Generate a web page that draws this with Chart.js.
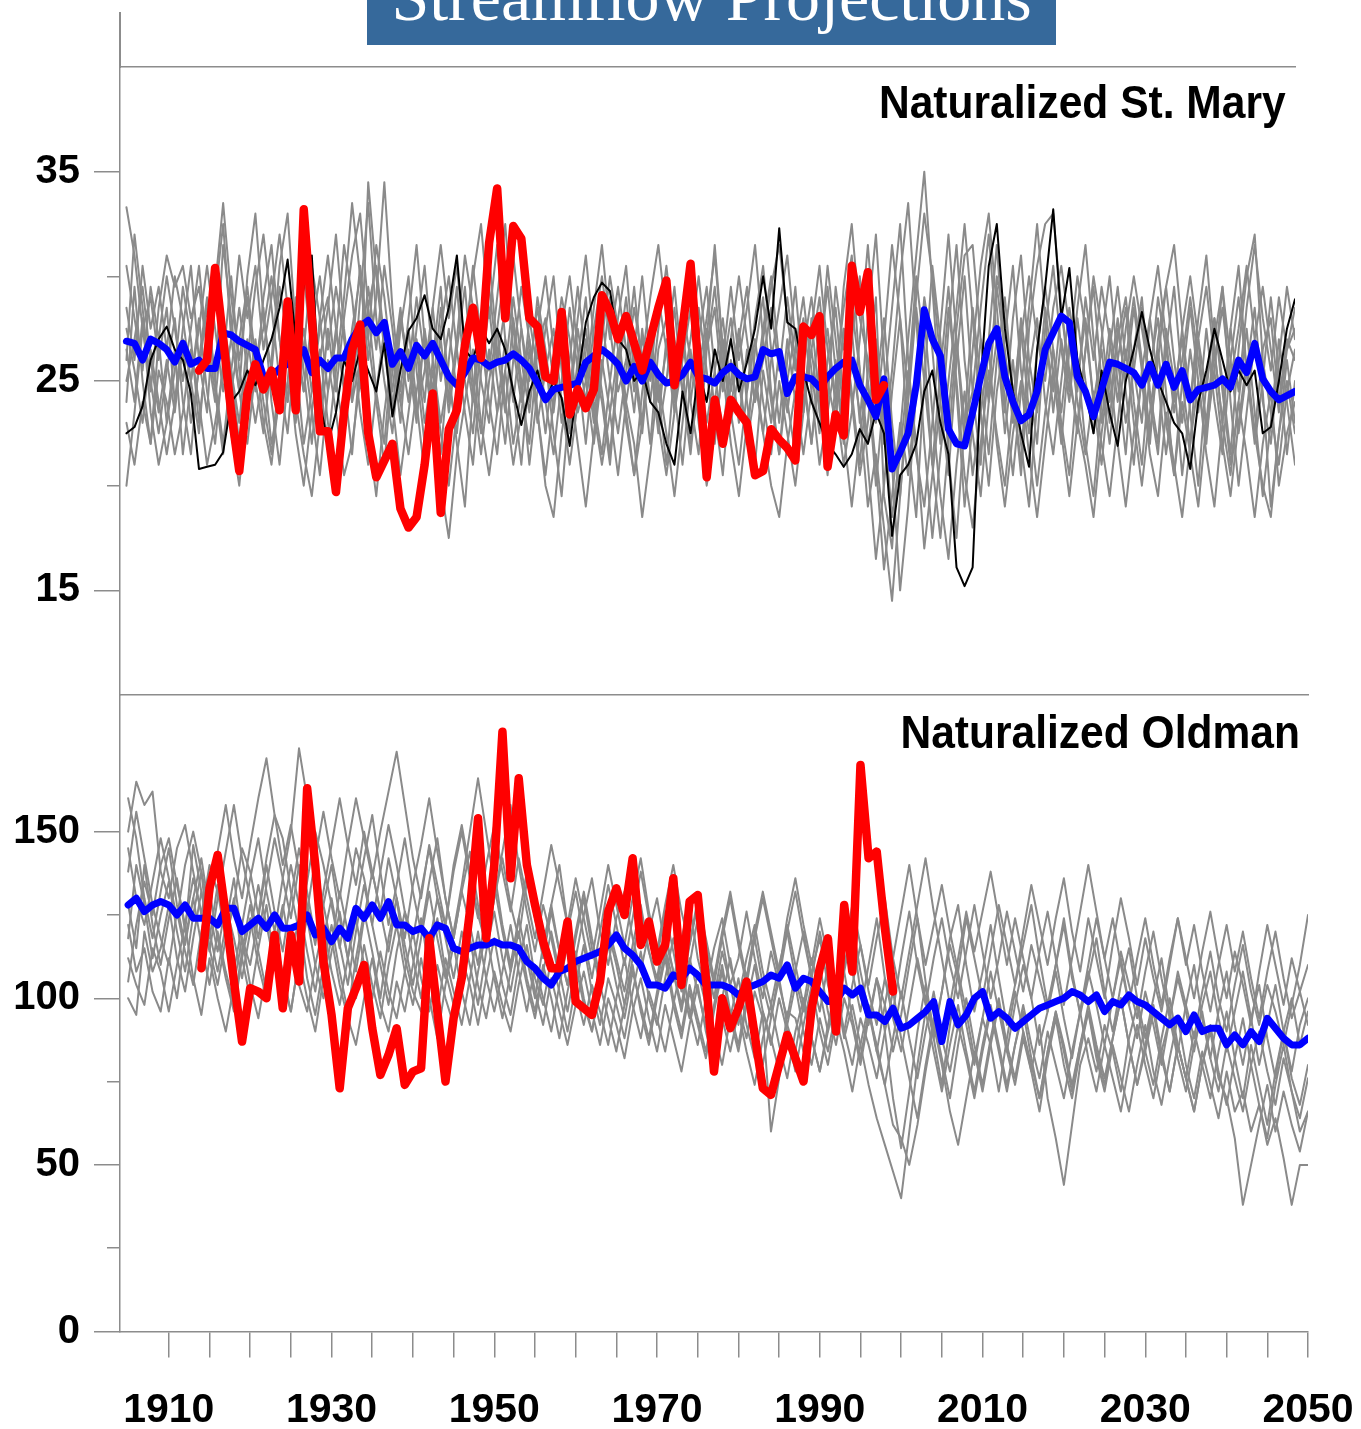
<!DOCTYPE html>
<html>
<head>
<meta charset="utf-8">
<title>Streamflow Projections</title>
<script src="https://cdn.jsdelivr.net/npm/chart.js@4.4.1/dist/chart.umd.min.js"></script>
<style>
  html, body { margin: 0; padding: 0; background: #fff; }
  body { width: 1361px; height: 1429px; position: relative; overflow: hidden; }
  #banner { position: absolute; left: 367px; top: 0; width: 689px; height: 45px; background: #36699b; overflow: hidden; }
  #banner span { position: absolute; left: 0; right: 0; top: -37px; text-align: center; color: #fff;
    font: 68px/68px "Liberation Serif", "Times New Roman", serif; white-space: nowrap; }
  .panelTitle { position: absolute; color: #000; white-space: nowrap;
    font: bold 46px/46px "Liberation Sans", Arial, sans-serif;
    transform: scaleX(0.925); transform-origin: right center; }
  #stub { position: absolute; left: 119px; top: 12px; width: 1.5px; height: 56px; background: #8c8c8c; }
  canvas { position: absolute; left: 0; }
</style>
</head>
<body>
<div id="banner"><span>Streamflow Projections</span></div>
<div id="stub"></div>
<canvas id="stMaryChart" width="1361" height="700" style="top:0"></canvas>
<canvas id="oldmanChart" width="1361" height="740" style="top:690px"></canvas>
<div class="panelTitle" style="right:75px; top:79px;">Naturalized St. Mary</div>
<div class="panelTitle" style="right:61px; top:709px;">Naturalized Oldman</div>

<script>
'use strict'

// years: model runs 1905-2050, observed record 1914-1999
const FIRST_YEAR = 1905;
const OBSERVED_FIRST_YEAR = 1914;

const stMaryTicks = [15, 25, 35];
const stMaryMinorTicks = [20, 30];
const oldmanTicks = [0, 50, 100, 150];
const oldmanMinorTicks = [25, 75, 125];
const yearLabels = [1910, 1930, 1950, 1970, 1990, 2010, 2030, 2050];
let yearTicks = [];
for (let y = 1910; y <= 2050; y += 5) {
    yearTicks.push(y);
}

// ---------------- St. Mary ----------------
let stMaryObserved = [
    25.5, 26.0, 30.4, 27.0, 23.5, 20.7,
    24.4, 25.8, 24.6, 25.5, 23.6, 28.8, 23.6, 33.2, 28.0, 22.6,
    22.6, 19.7, 23.5, 26.5, 27.7, 22.5, 20.4, 21.2, 22.0, 18.9,
    18.0, 18.5, 21.0, 24.4, 18.7, 22.7, 23.6, 26.7, 28.5, 26.1,
    31.6, 34.2, 28.0, 32.4, 31.8, 28.0, 27.6, 25.2, 25.0, 28.3,
    23.4, 24.6, 23.7, 24.6, 29.1, 28.3, 27.0, 28.1, 26.8, 25.5,
    27.0, 28.5, 29.8, 24.8, 27.5, 30.6, 25.5, 20.4, 24.1, 22.0,
    24.1, 23.5, 23.0, 20.5, 20.7, 22.7, 22.2, 21.8, 21.2, 27.6,
    27.2, 28.1, 20.9, 23.4, 22.4, 30.5, 28.3, 30.2, 24.1, 24.8
];

let stMaryMean = [
    26.9, 26.8, 26.0, 27.0, 26.8,
    26.5, 25.9, 26.8, 25.8, 26.0, 25.6, 25.6, 27.3, 27.2, 26.9,
    26.7, 26.5, 25.2, 25.2, 25.6, 25.8, 26.2, 26.5, 25.4, 26.0,
    25.6, 26.1, 26.1, 27.0, 27.6, 27.9, 27.3, 27.8, 25.8, 26.4,
    25.6, 26.7, 26.2, 26.8, 26.0, 25.2, 24.8, 25.4, 26.1, 26.0,
    25.7, 25.9, 26.0, 26.3, 26.0, 25.6, 24.9, 24.1, 24.6, 24.7,
    24.8, 24.9, 25.9, 26.2, 26.5, 26.2, 25.8, 25.0, 25.7, 25.0,
    25.9, 25.3, 24.9, 25.0, 25.3, 25.9, 25.2, 25.1, 24.9, 25.4,
    25.7, 25.3, 25.1, 25.2, 26.5, 26.3, 26.4, 24.4, 25.2, 25.2,
    25.1, 24.7, 25.2, 25.6, 25.9, 26.0, 24.8, 24.1, 23.3, 25.1,
    20.8, 21.6, 22.5, 24.8, 28.4, 27.0, 26.2, 22.7, 22.0, 21.9,
    23.5, 25.2, 26.8, 27.5, 25.2, 24.0, 23.1, 23.4, 24.5, 26.5,
    27.3, 28.1, 27.8, 25.2, 24.5, 23.3, 24.6, 25.9, 25.8, 25.6,
    25.4, 24.8, 25.8, 24.8, 25.8, 24.7, 25.5, 24.1, 24.6, 24.7,
    24.8, 25.1, 24.7, 26.0, 25.4, 26.8, 25.1, 24.5, 24.1, 24.3,
    24.5
];

let stMaryModel = [
    22.5, 22.8, 23.8, 26.0, 27.0,
    27.6, 26.5, 26.0, 24.4, 20.8, 20.9, 21.0, 21.6, 24.0, 24.5,
    25.5, 24.8, 26.0, 27.0, 28.5, 30.8, 27.0, 29.5, 31.0, 24.0,
    22.0, 23.5, 26.0, 25.0, 26.5, 25.5, 24.5, 26.8, 23.3, 25.5,
    27.4, 28.0, 29.1, 27.5, 27.0, 28.5, 31.0, 26.5, 26.0, 27.5,
    26.8, 27.5, 26.5, 24.5, 22.9, 24.5, 25.5, 24.0, 25.0, 24.2,
    21.9, 25.0, 27.8, 29.0, 29.7, 29.3, 27.0, 26.5, 25.0, 25.5,
    24.0, 23.5, 22.0, 21.0, 24.5, 22.5, 25.5, 24.0, 26.5, 25.0,
    27.0, 24.5, 25.9, 27.5, 30.0, 27.5, 32.3, 27.8, 27.5, 25.5,
    24.0, 23.0, 22.0, 21.5, 20.9, 21.5, 22.7, 22.0, 23.5, 22.5,
    17.6, 20.5, 21.0, 22.0, 24.5, 25.5, 23.0, 21.5, 16.1, 15.2,
    16.1, 25.0, 30.5, 32.5, 27.5, 24.5, 22.5, 20.9, 26.5, 29.5,
    33.2, 28.0, 30.4, 26.0, 24.5, 22.5, 25.5, 23.5, 21.9, 25.0,
    26.5, 28.3, 26.5, 25.0, 24.0, 23.0, 22.5, 20.8, 24.0, 25.5,
    27.5, 26.0, 24.5, 25.5, 24.8, 25.5, 22.5, 22.8, 25.0, 27.5,
    28.9
];

let stMaryRun1 = [
    33.3, 31.0, 27.5, 29.0, 26.0,
    28.5, 24.0, 27.5, 30.5, 26.0, 23.5, 29.0, 32.5, 27.0, 24.5,
    30.0, 33.0, 28.0, 25.5, 29.5, 27.0, 23.0, 26.5, 30.5, 28.0,
    24.5, 27.0, 31.5, 29.0, 25.0, 34.5, 30.0, 26.5, 23.5, 27.5,
    30.0, 25.5, 22.0, 26.0, 29.5, 24.0, 27.0, 31.0, 28.5, 25.0,
    23.0, 27.5, 30.5, 26.5, 24.0, 28.0, 25.5, 22.5, 26.0, 29.0,
    27.0, 23.5, 25.0, 28.5, 31.5, 27.5, 24.5, 26.0, 29.5, 25.5,
    22.0, 26.5, 28.0, 24.0, 27.5, 30.5, 26.0, 23.0, 25.5, 28.0,
    24.5, 27.0, 29.5, 25.0, 22.5, 26.0, 28.5, 31.0, 27.0, 24.0,
    26.5, 29.0, 25.0, 23.0, 27.5, 24.5, 21.0, 25.5, 29.0, 19.5,
    17.0, 22.5, 27.0, 31.0, 35.0, 29.5, 24.0, 20.5, 26.0, 30.0,
    24.5, 21.0, 27.0, 31.5, 26.0, 23.5, 28.0, 25.0, 22.0, 27.5,
    30.5, 26.5, 24.0, 28.0, 25.0, 22.5, 27.0, 30.0, 26.0, 23.0,
    25.5, 28.5, 24.0, 21.5, 26.5, 29.5, 25.0, 22.0, 27.0, 24.5,
    28.0, 25.0, 21.5, 26.5, 30.0, 32.0, 26.0, 23.5, 21.0, 24.5,
    26.5
];

let stMaryRun2 = [
    24.0, 29.5, 25.0, 22.0, 27.0,
    23.0, 26.5, 21.5, 25.0, 28.0, 24.5, 22.0, 26.0, 30.0, 25.5,
    23.5, 27.0, 24.0, 21.5, 25.5, 28.5, 26.0, 22.0, 24.5, 27.5,
    29.0, 25.0, 22.5, 26.5, 30.5, 27.0, 24.0, 21.0, 25.5, 28.0,
    26.0, 23.0, 27.5, 24.5, 21.5, 26.0, 29.5, 25.0, 22.5, 27.0,
    31.0, 26.5, 23.5, 28.0, 25.0, 21.0, 24.5, 27.5, 30.0, 25.5,
    22.5, 26.0, 29.0, 24.0, 21.5, 25.0, 28.0, 30.5, 26.0, 23.0,
    27.5, 24.5, 21.0, 25.5, 28.5, 26.0, 23.5, 27.0, 31.5, 26.5,
    23.0, 25.5, 22.0, 26.5, 29.0, 24.5, 21.5, 25.0, 27.5, 23.5,
    28.0, 24.0, 20.5, 25.0, 28.5, 31.0, 25.5, 21.0, 16.5, 20.0,
    24.5, 28.0, 22.0, 18.5, 25.0, 30.5, 27.0, 21.5, 17.5, 23.0,
    28.5, 25.0, 21.5, 26.0, 29.0, 24.5, 20.5, 25.5, 28.0, 24.0,
    21.5, 25.0, 28.5, 26.0, 22.0, 19.5, 24.0, 27.5, 25.0, 21.5,
    26.5, 29.0, 24.5, 22.0, 27.5, 25.0, 20.5, 24.0, 27.0, 22.5,
    25.5, 29.5, 24.0, 20.0, 23.5, 27.0, 24.5, 19.0, 22.5, 26.0,
    23.0
];

let stMaryRun3 = [
    28.5, 26.0, 30.5, 27.5, 29.5,
    26.5, 30.0, 28.0, 25.0, 22.5, 27.0, 24.5, 21.5, 25.5, 23.0,
    27.0, 24.5, 29.0, 31.5, 27.0, 24.0, 28.5, 25.5, 22.0, 26.0,
    28.5, 32.0, 27.5, 24.0, 29.0, 33.5, 28.0, 25.0, 22.5, 26.5,
    24.0, 27.5, 30.5, 26.0, 23.0, 25.5, 22.0, 19.0, 24.5, 28.0,
    25.5, 29.0, 32.5, 27.5, 24.5, 22.0, 26.5, 24.0, 21.5, 25.0,
    28.5, 25.5, 22.0, 26.0, 24.0, 21.0, 25.5, 28.0, 24.5, 27.0,
    25.0, 29.0, 26.5, 23.5, 27.0, 24.0, 21.5, 26.5, 29.5, 25.5,
    28.0, 25.0, 22.0, 24.5, 27.5, 30.0, 26.0, 23.5, 26.5, 29.0,
    25.5, 22.5, 26.0, 28.5, 24.0, 27.5, 23.0, 28.0, 32.0, 26.0,
    21.0, 15.0, 19.0, 24.5, 29.0, 26.5, 22.0, 27.5, 31.5, 26.0,
    22.5, 19.5, 24.0, 27.0, 23.5, 28.0, 31.0, 26.0, 23.5, 27.0,
    24.5, 28.5, 25.5, 22.5, 26.5, 29.5, 25.0, 22.0, 26.0, 28.5,
    24.0, 21.0, 25.5, 28.0, 24.5, 20.5, 25.0, 28.5, 25.0, 22.0,
    26.5, 23.0, 27.5, 30.5, 25.5, 22.0, 25.0, 29.0, 25.5, 21.5,
    25.0
];

let stMaryRun4 = [
    20.0, 23.5, 27.5, 25.0, 22.5,
    25.5, 28.0, 24.0, 21.5, 26.0, 29.0, 25.0, 31.5, 28.0, 24.5,
    22.0, 25.5, 28.5, 24.0, 21.0, 25.0, 29.0, 26.5, 23.5, 20.5,
    24.5, 27.5, 25.0, 21.5, 26.0, 28.5, 24.5, 22.0, 26.5, 23.0,
    27.5, 24.0, 20.5, 24.0, 27.0, 23.5, 26.5, 29.5, 25.0, 22.5,
    26.5, 23.5, 27.0, 24.5, 21.0, 25.5, 28.5, 26.0, 22.5, 19.5,
    24.0, 27.5, 25.0, 22.0, 25.5, 29.0, 26.5, 23.0, 20.5, 24.5,
    27.0, 24.0, 26.5, 29.5, 25.5, 22.0, 24.5, 27.5, 23.5, 20.5,
    25.0, 27.5, 24.0, 21.0, 25.5, 23.0, 26.5, 24.0, 21.5, 25.5,
    22.0, 26.0, 29.5, 25.5, 22.0, 26.0, 23.5, 19.0, 21.5, 18.0,
    14.5, 19.5, 25.0, 30.0, 26.5, 21.0, 17.5, 22.0, 27.0, 23.0,
    24.5, 28.5, 32.0, 27.0, 22.5, 26.0, 22.0, 19.0, 24.0, 28.5,
    25.5, 22.0, 26.5, 30.0, 27.5, 24.0, 21.0, 25.0, 28.0, 24.5,
    21.0, 25.5, 28.0, 25.0, 21.5, 24.5, 27.0, 23.5, 20.0, 25.0,
    28.0, 24.5, 21.0, 24.0, 27.5, 23.5, 19.5, 23.0, 27.0, 24.0,
    21.0
];

let stMaryRun5 = [
    30.5, 28.0, 25.5, 29.5, 27.0,
    30.0, 27.5, 25.0, 27.5, 30.5, 26.5, 24.0, 28.0, 25.5, 22.0,
    26.0, 29.5, 32.0, 28.5, 25.0, 22.5, 27.0, 30.0, 26.5, 23.5,
    27.5, 24.5, 28.0, 31.0, 33.0, 28.5, 30.5, 27.0, 24.5, 28.0,
    25.5, 29.0, 26.0, 23.0, 27.5, 30.0, 26.5, 23.5, 21.0, 25.5,
    28.5, 25.0, 22.0, 26.0, 29.5, 27.0, 23.5, 20.5, 24.0, 27.5,
    24.5, 28.0, 31.0, 27.0, 24.5, 21.5, 26.0, 29.0, 25.5, 22.5,
    26.5, 23.0, 27.0, 24.5, 21.0, 25.0, 28.5, 25.5, 22.0, 26.0,
    29.5, 26.0, 28.5, 31.5, 27.0, 24.0, 21.5, 26.0, 29.5, 25.0,
    22.0, 25.5, 27.5, 24.0, 21.0, 23.5, 27.0, 31.5, 26.5, 22.0,
    25.5, 30.0, 33.5, 28.0, 22.0, 17.5, 21.5, 25.0, 28.5, 32.5,
    28.0, 23.5, 20.0, 24.5, 27.0, 30.5, 25.5, 22.5, 26.5, 29.5,
    26.5, 23.0, 20.5, 25.0, 28.0, 24.0, 26.5, 23.0, 27.5, 25.0,
    28.5, 25.5, 22.0, 27.0, 29.5, 26.0, 23.0, 26.5, 23.5, 27.5,
    24.0, 21.5, 26.0, 29.0, 25.5, 22.5, 26.5, 28.0, 24.0, 27.0,
    26.0
];

let stMaryRun6 = [
    23.0, 21.0, 24.0, 22.0, 25.5,
    24.0, 21.5, 23.5, 26.5, 24.0, 21.0, 23.0, 25.5, 22.5, 20.0,
    24.0, 26.5, 23.0, 21.0, 24.5, 27.5, 24.0, 21.5, 19.5, 23.0,
    26.0, 23.5, 20.5, 22.0, 25.0, 22.5, 19.5, 23.5, 26.5, 24.0,
    21.5, 24.5, 27.0, 23.0, 20.0, 17.5, 21.5, 24.0, 26.5, 23.0,
    20.5, 23.5, 25.5, 22.0, 24.5, 27.0, 23.5, 20.0, 18.5, 22.5,
    25.0, 22.0, 19.0, 22.5, 26.0, 23.5, 20.5, 24.0, 22.0, 18.5,
    21.5, 25.0, 22.5, 19.5, 23.0, 26.5, 23.0, 20.0, 22.5, 25.5,
    22.0, 19.5, 23.0, 25.5, 22.5, 20.0, 18.5, 22.0, 24.5, 21.5,
    24.5, 21.0, 23.5, 26.0, 22.5, 19.0, 22.5, 25.0, 21.0, 16.0,
    19.5, 23.0, 20.5, 24.5, 28.0, 23.5, 19.5, 16.5, 21.0, 24.5,
    20.5, 23.5, 26.5, 22.0, 19.0, 22.5, 25.0, 21.5, 18.5, 22.0,
    25.5, 22.5, 19.5, 23.0, 21.0, 18.5, 22.5, 25.5, 22.0, 19.0,
    22.5, 25.0, 21.5, 19.5, 23.5, 21.0, 18.5, 22.0, 25.0, 21.5,
    19.0, 23.0, 20.5, 24.0, 21.5, 18.5, 22.0, 24.5, 20.0, 22.5,
    24.0
];

let stMaryRun7 = [
    26.5, 24.0, 28.0, 23.5, 21.0,
    23.0, 25.5, 29.5, 27.0, 23.0, 26.5, 29.5, 33.5, 29.0, 26.0,
    29.0, 25.0, 22.5, 26.0, 30.5, 33.0, 27.5, 24.5, 28.0, 25.0,
    22.0, 25.5, 29.0, 33.5, 30.0, 26.0, 29.0, 34.5, 28.5, 24.5,
    28.0, 31.5, 27.0, 24.5, 28.5, 25.0, 22.5, 26.5, 30.5, 27.0,
    24.0, 21.5, 25.5, 29.0, 26.0, 23.5, 27.5, 30.0, 26.5, 23.0,
    26.0, 29.5, 26.0, 23.0, 27.0, 30.0, 27.5, 24.0, 26.5, 30.0,
    26.0, 22.5, 25.0, 28.5, 24.5, 21.5, 25.5, 28.0, 31.0, 26.5,
    23.5, 27.0, 24.5, 28.0, 30.5, 26.5, 23.0, 27.0, 24.0, 26.5,
    29.0, 26.0, 30.5, 27.0, 23.5, 27.0, 30.0, 25.0, 20.0, 24.5,
    28.5, 32.5, 26.0, 21.5, 19.0, 23.0, 27.5, 32.0, 27.0, 22.0,
    26.5, 30.5, 33.0, 28.5, 24.0, 20.5, 24.5, 28.5, 32.5, 28.0,
    23.5, 27.0, 24.5, 28.5, 31.5, 27.0, 23.0, 26.5, 29.5, 26.0,
    29.0, 26.0, 22.5, 26.0, 29.5, 31.5, 27.5, 24.0, 28.0, 31.0,
    26.5, 23.0, 27.5, 24.5, 28.5, 31.5, 28.0, 25.5, 29.0, 26.5,
    27.5
];

let stMaryRun8 = [
    26.0, 32.0, 28.5, 24.5, 28.5,
    31.0, 29.5, 30.5, 28.0, 29.5, 26.5, 30.0, 27.5, 24.5, 27.0,
    29.5, 26.0, 27.5, 30.0, 27.0, 24.0, 26.5, 24.5, 27.5, 30.0,
    26.5, 29.5, 27.0, 24.0, 26.0, 29.5, 26.5, 30.5, 27.5, 24.0,
    26.5, 23.5, 25.5, 28.5, 25.0, 27.5, 24.5, 27.0, 30.0, 32.5,
    28.0, 31.5, 27.0, 24.0, 27.5, 25.0, 29.0, 26.5, 23.5, 27.0,
    23.0, 25.5, 27.5, 24.5, 28.0, 25.0, 22.5, 25.5, 28.5, 26.0,
    29.0, 31.5, 28.0, 25.0, 27.5, 24.0, 27.0, 29.5, 25.5, 22.5,
    26.0, 23.0, 26.5, 24.0, 27.0, 29.5, 31.5, 28.0, 25.5, 28.0,
    24.5, 27.5, 24.0, 29.5, 26.5, 28.5, 25.5, 22.0, 24.5, 28.0,
    23.0, 19.5, 24.0, 28.5, 25.0, 21.0, 25.5, 29.5, 24.5, 19.0,
    23.0, 27.0, 24.0, 30.0, 28.0, 24.5, 21.0, 27.5, 30.5, 32.5,
    33.0, 28.5, 25.0, 23.0, 26.5, 30.0, 27.5, 24.0, 27.0, 29.0,
    25.5, 23.0, 28.0, 30.5, 27.0, 23.5, 26.0, 29.0, 26.0, 23.0,
    27.0, 29.5, 26.0, 22.5, 25.5, 28.5, 24.0, 22.0, 26.0, 29.5,
    27.0
];

let stMaryRun9 = [
    27.5, 25.5, 23.0, 26.5, 24.0,
    21.5, 24.0, 26.5, 23.0, 25.5, 28.5, 25.0, 22.0, 25.5, 28.5,
    25.5, 23.0, 25.5, 22.0, 24.0, 26.5, 22.5, 20.0, 23.5, 26.5,
    23.0, 20.5, 24.0, 27.0, 23.5, 21.0, 24.5, 27.5, 24.0, 20.5,
    23.5, 26.5, 23.0, 25.5, 22.5, 20.0, 23.5, 27.0, 24.5, 21.5,
    25.0, 27.5, 24.0, 21.0, 23.5, 26.5, 23.0, 25.5, 27.5, 24.0,
    21.0, 24.0, 27.0, 23.5, 21.0, 23.5, 26.5, 23.5, 20.5, 23.0,
    26.0, 23.0, 20.5, 23.5, 26.0, 28.5, 24.5, 21.5, 24.0, 27.0,
    23.5, 21.0, 24.5, 27.0, 24.0, 21.5, 25.0, 22.5, 20.0, 23.5,
    26.5, 23.5, 21.0, 24.0, 27.5, 24.0, 20.5, 23.0, 27.0, 23.0,
    18.5, 21.5, 25.5, 22.0, 17.0, 20.5, 24.0, 28.5, 25.0, 20.5,
    18.0, 22.0, 25.5, 22.5, 20.0, 24.0, 27.5, 23.5, 20.0, 23.5,
    26.5, 23.5, 27.0, 24.0, 21.5, 24.5, 22.0, 19.5, 23.0, 26.5,
    23.0, 20.0, 23.5, 26.5, 23.0, 20.5, 24.0, 21.5, 19.0, 23.0,
    25.5, 22.0, 19.5, 23.0, 26.0, 22.5, 20.0, 18.5, 22.5, 25.0,
    22.5
];

let stMaryRun10 = [
    25.0, 27.0, 29.5, 26.0, 23.5,
    26.0, 23.5, 27.0, 25.0, 27.5, 30.5, 27.5, 24.5, 27.0, 31.0,
    28.0, 30.5, 26.5, 29.0, 32.0, 28.5, 25.0, 27.5, 24.5, 28.0,
    31.0, 27.5, 24.5, 27.5, 30.0, 27.0, 31.5, 29.0, 25.5, 28.5,
    25.0, 27.0, 24.0, 28.5, 31.5, 28.0, 30.5, 26.5, 24.0, 27.5,
    29.5, 26.0, 28.5, 31.0, 27.5, 24.0, 26.5, 28.0, 25.0, 27.5,
    30.0, 26.5, 24.0, 27.5, 30.0, 27.0, 29.5, 26.5, 23.5, 27.5,
    24.0, 27.5, 30.5, 27.0, 24.5, 27.0, 30.0, 26.5, 28.5, 24.5,
    27.0, 30.0, 27.0, 24.0, 26.0, 28.5, 25.5, 29.0, 26.0, 23.5,
    27.5, 30.5, 26.5, 24.0, 29.5, 32.5, 28.0, 26.0, 23.0, 27.0,
    31.5, 28.0, 24.5, 29.0, 33.0, 30.0, 26.0, 23.5, 27.5, 31.0,
    31.5, 27.0, 24.5, 29.5, 26.5, 23.0, 27.0, 30.0, 27.0, 25.0,
    28.5, 30.5, 27.5, 24.5, 29.0, 26.0, 29.5, 27.0, 24.0, 27.5,
    30.0, 27.5, 25.0, 29.0, 26.5, 24.0, 27.5, 30.0, 27.0, 29.5,
    26.0, 28.5, 25.0, 27.5, 30.5, 27.0, 29.5, 26.5, 23.5, 26.5,
    28.5
];

// ---------------- Oldman ----------------
let oldmanObserved = [
    109, 133, 143, 125, 105, 87,
    103, 102, 100, 119, 97, 119, 105, 163, 140, 111,
    95, 73, 97, 103, 110, 91, 77, 83, 91, 74,
    78, 79, 118, 96, 75, 94, 106, 126, 154, 118,
    140, 180, 136, 166, 140, 128, 117, 109, 109, 123,
    99, 97, 95, 105, 126, 133, 125, 142, 116, 123,
    111, 116, 136, 104, 129, 131, 106, 78, 100, 91,
    97, 105, 89, 73, 71, 80, 89, 82, 75, 97,
    109, 118, 90, 128, 108, 170, 142, 144, 121, 102
];

let oldmanMean = [
    128, 130, 126, 128, 129,
    128, 125, 128, 124, 124, 124, 122, 127, 127, 120,
    122, 124, 121, 125, 121, 121, 122, 125, 119, 121,
    117, 121, 118, 127, 124, 128, 124, 129, 122, 122,
    120, 121, 118, 122, 121, 115, 114, 115, 116, 116,
    117, 116, 116, 115, 111, 109, 106, 104, 108, 109,
    111, 112, 113, 114, 116, 119, 115, 113, 110, 104,
    104, 103, 107, 106, 109, 107, 104, 104, 104, 103,
    101, 103, 104, 105, 107, 106, 110, 103, 106, 105,
    102, 99, 99, 103, 101, 103, 95, 95, 93, 97,
    91, 92, 94, 96, 99, 87, 99, 92, 95, 100,
    102, 94, 96, 94, 91, 93, 95, 97, 98, 99,
    100, 102, 101, 99, 101, 96, 99, 98, 101, 99,
    98, 96, 94, 92, 94, 90, 95, 90, 91, 91,
    86, 89, 86, 90, 87, 94, 91, 88, 86, 86,
    88
];

let oldmanRun1 = [
    150, 165, 158, 162, 138,
    130, 145, 152, 138, 125, 140, 132, 118, 128, 145,
    138, 125, 142, 155, 148, 132, 120, 135, 150, 140,
    128, 115, 130, 145, 136, 122, 138, 152, 140, 126,
    118, 132, 145, 130, 122, 140, 152, 138, 125, 116,
    130, 142, 128, 118, 135, 126, 115, 128, 140, 122,
    112, 125, 136, 120, 110, 124, 132, 118, 108, 120,
    130, 115, 105, 118, 128, 112, 102, 115, 124, 110,
    100, 112, 122, 108, 98, 110, 120, 106, 96, 108,
    118, 104, 95, 108, 120, 102, 92, 106, 98, 84,
    95, 110, 124, 105, 90, 102, 118, 128, 110, 96,
    108, 122, 106, 92, 104, 116, 128, 112, 98, 110,
    124, 108, 95, 106, 118, 102, 90, 104, 115, 100,
    88, 100, 112, 96, 84, 98, 110, 94, 82, 96,
    108, 92, 80, 94, 104, 88, 76, 90, 100, 86,
    96
];

let oldmanRun2 = [
    118, 140, 128, 112, 125,
    135, 120, 108, 125, 138, 115, 104, 118, 130, 112,
    100, 115, 128, 110, 98, 112, 124, 106, 95, 110,
    122, 108, 96, 112, 126, 114, 100, 118, 130, 112,
    102, 96, 110, 124, 108, 98, 112, 104, 92, 106,
    118, 104, 95, 110, 122, 106, 98, 112, 102, 90,
    104, 116, 102, 92, 106, 98, 88, 102, 114, 100,
    92, 106, 118, 104, 94, 108, 98, 86, 100, 112,
    98, 88, 102, 94, 60, 76, 96, 94, 84, 98,
    110, 96, 86, 100, 92, 80, 94, 106, 90, 70,
    55, 72, 90, 104, 88, 74, 92, 108, 96, 82,
    94, 86, 72, 88, 102, 90, 78, 92, 70, 58,
    44, 62, 80, 88, 78, 92, 84, 72, 88, 98,
    84, 74, 88, 100, 86, 76, 90, 80, 70, 84,
    96, 82, 70, 86, 74, 62, 78, 90, 76, 68,
    80
];

let oldmanRun3 = [
    100, 95, 120, 108, 115,
    128, 112, 102, 118, 132, 120, 108, 122, 136, 118,
    110, 124, 140, 126, 114, 130, 145, 132, 118, 128,
    140, 124, 112, 128, 142, 155, 138, 122, 134, 148,
    132, 120, 135, 148, 130, 118, 132, 122, 110, 126,
    138, 122, 110, 124, 112, 100, 116, 128, 114, 104,
    118, 130, 115, 104, 120, 110, 98, 112, 126, 114,
    104, 118, 108, 96, 110, 124, 112, 100, 114, 104,
    92, 106, 118, 104, 94, 108, 122, 110, 98, 112,
    102, 90, 104, 118, 108, 96, 110, 124, 106, 94,
    84, 98, 112, 100, 88, 102, 116, 106, 92, 80,
    94, 108, 96, 84, 98, 110, 100, 86, 96, 108,
    94, 82, 96, 108, 98, 86, 100, 112, 98, 88,
    102, 92, 80, 94, 106, 96, 84, 98, 108, 94,
    84, 96, 108, 94, 80, 92, 104, 90, 78, 92,
    100
];

let oldmanRun4 = [
    145, 130, 122, 135, 148,
    136, 124, 140, 150, 138, 126, 144, 158, 142, 130,
    146, 160, 172, 155, 140, 152, 138, 126, 142, 156,
    142, 130, 146, 160, 148, 136, 150, 162, 174, 158,
    142, 130, 146, 134, 122, 138, 150, 136, 124, 140,
    152, 138, 126, 142, 130, 118, 132, 146, 134, 122,
    136, 124, 112, 126, 140, 128, 116, 130, 142, 126,
    114, 128, 140, 126, 116, 130, 118, 106, 120, 132,
    118, 106, 120, 132, 120, 108, 124, 136, 122, 110,
    124, 112, 100, 114, 128, 116, 104, 118, 130, 112,
    126, 140, 124, 110, 122, 134, 120, 108, 124, 112,
    100, 114, 128, 116, 104, 120, 134, 122, 110, 124,
    136, 120, 108, 124, 112, 100, 116, 130, 118, 104,
    118, 106, 96, 110, 124, 112, 100, 114, 126, 112,
    100, 114, 104, 92, 108, 122, 110, 98, 112, 102,
    110
];

let oldmanRun5 = [
    112, 104, 98, 115, 108,
    96, 110, 122, 106, 95, 112, 100, 90, 104, 118,
    104, 94, 108, 120, 105, 96, 112, 100, 90, 106,
    118, 104, 94, 86, 100, 112, 98, 90, 105, 96,
    110, 124, 108, 96, 112, 102, 92, 106, 120, 106,
    96, 108, 122, 108, 96, 110, 100, 90, 104, 116,
    102, 92, 104, 96, 86, 100, 112, 98, 88, 102,
    94, 84, 98, 110, 96, 86, 100, 90, 80, 94,
    106, 92, 82, 96, 88, 78, 92, 104, 90, 80,
    94, 84, 96, 108, 94, 82, 96, 86, 74, 62,
    58, 50, 62, 78, 92, 80, 66, 56, 70, 84,
    72, 86, 98, 84, 74, 88, 78, 66, 82, 94,
    80, 70, 84, 96, 82, 72, 86, 76, 66, 80,
    92, 78, 68, 82, 94, 80, 70, 84, 74, 64,
    78, 66, 72, 60, 68, 56, 64, 52, 38, 50,
    50
];

let oldmanRun6 = [
    160, 148, 130, 118, 132,
    145, 128, 116, 130, 142, 126, 114, 128, 118, 106,
    120, 134, 122, 110, 126, 140, 128, 114, 102, 118,
    130, 116, 104, 120, 134, 122, 110, 98, 114, 126,
    112, 100, 116, 130, 118, 106, 120, 110, 98, 114,
    126, 112, 102, 116, 104, 94, 108, 120, 108, 96,
    110, 98, 90, 104, 116, 104, 94, 108, 98, 88,
    102, 114, 100, 90, 104, 94, 84, 98, 110, 96,
    86, 100, 90, 80, 94, 106, 92, 84, 98, 88,
    78, 92, 104, 90, 80, 94, 86, 76, 90, 102,
    88, 76, 64, 80, 94, 82, 70, 86, 100, 86,
    74, 88, 100, 86, 76, 90, 80, 70, 84, 96,
    84, 72, 86, 98, 86, 76, 88, 100, 86, 74,
    86, 98, 84, 72, 86, 76, 66, 80, 92, 78,
    68, 82, 94, 80, 68, 58, 74, 86, 72, 60,
    66
];

let oldmanRun7 = [
    128, 115, 140, 122, 110,
    124, 136, 120, 146, 132, 118, 134, 120, 108, 122,
    136, 148, 132, 120, 136, 150, 175, 160, 140, 128,
    116, 132, 120, 108, 124, 138, 126, 114, 130, 116,
    104, 118, 132, 118, 106, 120, 134, 150, 166, 150,
    134, 120, 108, 124, 138, 124, 112, 126, 114, 104,
    120, 132, 118, 106, 122, 112, 102, 116, 128, 114,
    106, 120, 108, 98, 112, 102, 92, 106, 118, 104,
    112, 126, 112, 100, 114, 104, 94, 108, 120, 106,
    96, 110, 100, 90, 104, 116, 102, 92, 106, 96,
    112, 126, 110, 98, 112, 124, 110, 100, 114, 128,
    114, 100, 112, 126, 114, 102, 116, 106, 96, 110,
    122, 106, 96, 110, 124, 112, 100, 114, 104, 94,
    108, 120, 106, 94, 108, 98, 88, 102, 114, 100,
    90, 104, 116, 102, 92, 104, 96, 86, 98, 110,
    125
];

let oldmanRun8 = [
    138, 156, 142, 128, 118,
    110, 126, 114, 104, 120, 132, 118, 106, 96, 112,
    124, 110, 100, 116, 128, 114, 104, 96, 110, 122,
    108, 98, 112, 124, 110, 100, 114, 102, 94, 108,
    120, 106, 96, 110, 100, 92, 106, 118, 104, 94,
    108, 98, 90, 104, 116, 102, 92, 106, 96, 86,
    98, 108, 96, 86, 100, 92, 82, 96, 106, 94,
    84, 98, 88, 78, 92, 104, 90, 80, 94, 84,
    96, 84, 74, 88, 98, 86, 76, 90, 100, 88,
    78, 90, 102, 88, 98, 86, 74, 64, 56, 48,
    40, 60, 80, 96, 84, 72, 86, 98, 84, 72,
    86, 98, 86, 74, 86, 96, 82, 70, 84, 96,
    86, 74, 86, 96, 84, 74, 88, 100, 86, 74,
    84, 96, 82, 72, 86, 76, 66, 80, 90, 76,
    70, 58, 38, 50, 62, 74, 60, 72, 62, 54,
    66
];

let oldmanRun9 = [
    105, 122, 135, 125, 140,
    148, 134, 122, 136, 126, 114, 130, 144, 158, 142,
    130, 118, 134, 148, 136, 124, 140, 128, 116, 132,
    146, 160, 146, 134, 150, 138, 126, 142, 130, 118,
    134, 146, 160, 144, 130, 118, 132, 144, 128, 116,
    130, 144, 158, 140, 126, 114, 128, 118, 106, 120,
    132, 118, 106, 120, 134, 122, 110, 124, 138, 124,
    112, 126, 114, 102, 116, 128, 116, 104, 118, 130,
    116, 104, 118, 130, 118, 106, 120, 132, 118, 106,
    120, 108, 96, 110, 122, 108, 96, 84, 98, 112,
    100, 114, 128, 142, 126, 112, 98, 112, 126, 114,
    126, 138, 124, 110, 124, 112, 100, 114, 126, 112,
    98, 112, 126, 140, 126, 112, 124, 110, 98, 112,
    124, 110, 98, 112, 124, 110, 122, 108, 96, 110,
    122, 108, 120, 106, 94, 108, 120, 106, 94, 102,
    92
];

let oldmanRun10 = [
    122, 108, 115, 102, 96,
    112, 100, 118, 130, 116, 104, 120, 108, 98, 114,
    128, 114, 102, 118, 108, 96, 112, 124, 110, 100,
    114, 126, 112, 100, 116, 104, 94, 110, 122, 108,
    98, 112, 100, 88, 104, 116, 102, 92, 108, 120,
    106, 94, 108, 120, 106, 96, 110, 100, 88, 102,
    114, 100, 90, 104, 94, 84, 98, 110, 96, 86,
    100, 112, 98, 88, 102, 92, 82, 96, 108, 94,
    84, 98, 110, 96, 86, 100, 90, 78, 92, 104,
    90, 80, 94, 84, 72, 86, 98, 84, 74, 88,
    102, 88, 76, 90, 102, 88, 78, 92, 82, 70,
    84, 96, 84, 72, 86, 98, 86, 76, 90, 80,
    70, 84, 96, 82, 72, 86, 76, 66, 80, 92,
    80, 70, 84, 94, 82, 72, 86, 96, 82, 72,
    86, 76, 66, 80, 90, 78, 68, 82, 72, 64,
    76
];

let stMaryRuns = [stMaryRun1, stMaryRun2, stMaryRun3, stMaryRun4, stMaryRun5,
    stMaryRun6, stMaryRun7, stMaryRun8, stMaryRun9, stMaryRun10];
let oldmanRuns = [oldmanRun1, oldmanRun2, oldmanRun3, oldmanRun4, oldmanRun5,
    oldmanRun6, oldmanRun7, oldmanRun8, oldmanRun9, oldmanRun10];

// ---------------- helpers ----------------
const axisGrey = '#8c8c8c';
const labelFont = { family: "'Liberation Sans', Arial, sans-serif", size: 40, weight: 'bold' };

function toPoints(values, firstYear) {
    return values.map((v, i) => ({ x: firstYear + i, y: v }));
}

function lineSet(values, firstYear, color, width) {
    return {
        data: toPoints(values, firstYear),
        borderColor: color,
        borderWidth: width,
        pointRadius: 0,
        tension: 0,
        fill: false,
        borderJoinStyle: 'round',
        borderCapStyle: 'round'
    };
}

// axis size is fixed so both panels line up with the picture
function fixSize(size, horizontal) {
    return function (scale) {
        if (horizontal) {
            scale.height = size;
        } else {
            scale.width = size;
        }
        scale.paddingTop = 0;
        scale.paddingBottom = 0;
        scale.paddingLeft = 0;
        scale.paddingRight = 0;
    };
}

function setTicks(values) {
    return function (scale) {
        scale.ticks = values.map(v => ({ value: v }));
    };
}

function yAxes(min, max, major, minor) {
    return {
        y: {
            type: 'linear', position: 'left', min: min, max: max, weight: 1,
            afterBuildTicks: setTicks(major),
            afterFit: fixSize(120, false),
            ticks: { color: '#000', font: labelFont, padding: 14 },
            grid: { drawOnChartArea: false, tickLength: 26, color: axisGrey, lineWidth: 1.5 },
            border: { color: axisGrey, width: 1.5 }
        },
        yMinor: {
            type: 'linear', axis: 'y', position: 'left', min: min, max: max, weight: 0,
            afterBuildTicks: setTicks(minor),
            afterFit: fixSize(0, false),
            ticks: { display: false },
            grid: { drawOnChartArea: false, tickLength: 13, color: axisGrey, lineWidth: 1.5 },
            border: { display: false }
        }
    };
}

function topBorder(min, max) {
    return {
        type: 'linear', axis: 'x', position: 'top', min: min, max: max,
        afterFit: fixSize(0, true),
        ticks: { display: false },
        grid: { drawOnChartArea: false, drawTicks: false, color: 'rgba(0,0,0,0)' },
        border: { color: axisGrey, width: 1.5 }
    };
}

function buildDatasets(observed, mean, model, runs) {
    let sets = [];
    sets.push(lineSet(observed, OBSERVED_FIRST_YEAR, '#ff0000', 8.5));
    sets.push(lineSet(mean, FIRST_YEAR, '#0000ff', 7));
    if (model) {
        sets.push(lineSet(model, FIRST_YEAR, '#000000', 2));
    }
    for (let i = 0; i < runs.length; i++) {
        sets.push(lineSet(runs[i], FIRST_YEAR, '#8a8a8a', 2));
    }
    return sets;
}

const baseOptions = {
    responsive: false,
    animation: false,
    events: [],
    plugins: { legend: { display: false }, tooltip: { enabled: false } }
};

// ---------------- St. Mary panel ----------------
let stMaryScales = yAxes(10, 40, stMaryTicks, stMaryMinorTicks);
stMaryScales.x = { type: 'linear', display: false, min: 1904.2, max: 2050 };
stMaryScales.xTop = topBorder(1904.2, 2050);

new Chart(document.getElementById('stMaryChart').getContext('2d'), {
    type: 'line',
    data: { datasets: buildDatasets(stMaryObserved, stMaryMean, stMaryModel, stMaryRuns) },
    options: Object.assign({}, baseOptions, {
        layout: { padding: { left: 0, right: 66, top: 67, bottom: 5 } },
        scales: stMaryScales
    })
});

// ---------------- Oldman panel ----------------
let oldmanScales = yAxes(0, 191, oldmanTicks, oldmanMinorTicks);
oldmanScales.x = {
    type: 'linear', position: 'bottom', min: 1904, max: 2050,
    afterBuildTicks: setTicks(yearTicks),
    afterFit: fixSize(98.5, true),
    ticks: {
        color: '#000', font: Object.assign({}, labelFont, { size: 41 }), padding: 29,
        autoSkip: false, maxRotation: 0, minRotation: 0,
        callback: v => yearLabels.includes(v) ? String(v) : ''
    },
    grid: { drawOnChartArea: false, tickLength: 26, color: axisGrey, lineWidth: 1.5 },
    border: { color: axisGrey, width: 1.5 }
};
oldmanScales.xTop = topBorder(1904, 2050);

new Chart(document.getElementById('oldmanChart').getContext('2d'), {
    type: 'line',
    data: { datasets: buildDatasets(oldmanObserved, oldmanMean, null, oldmanRuns) },
    options: Object.assign({}, baseOptions, {
        layout: { padding: { left: 0, right: 53, top: 5, bottom: 0 } },
        scales: oldmanScales
    })
});
</script>
</body>
</html>
